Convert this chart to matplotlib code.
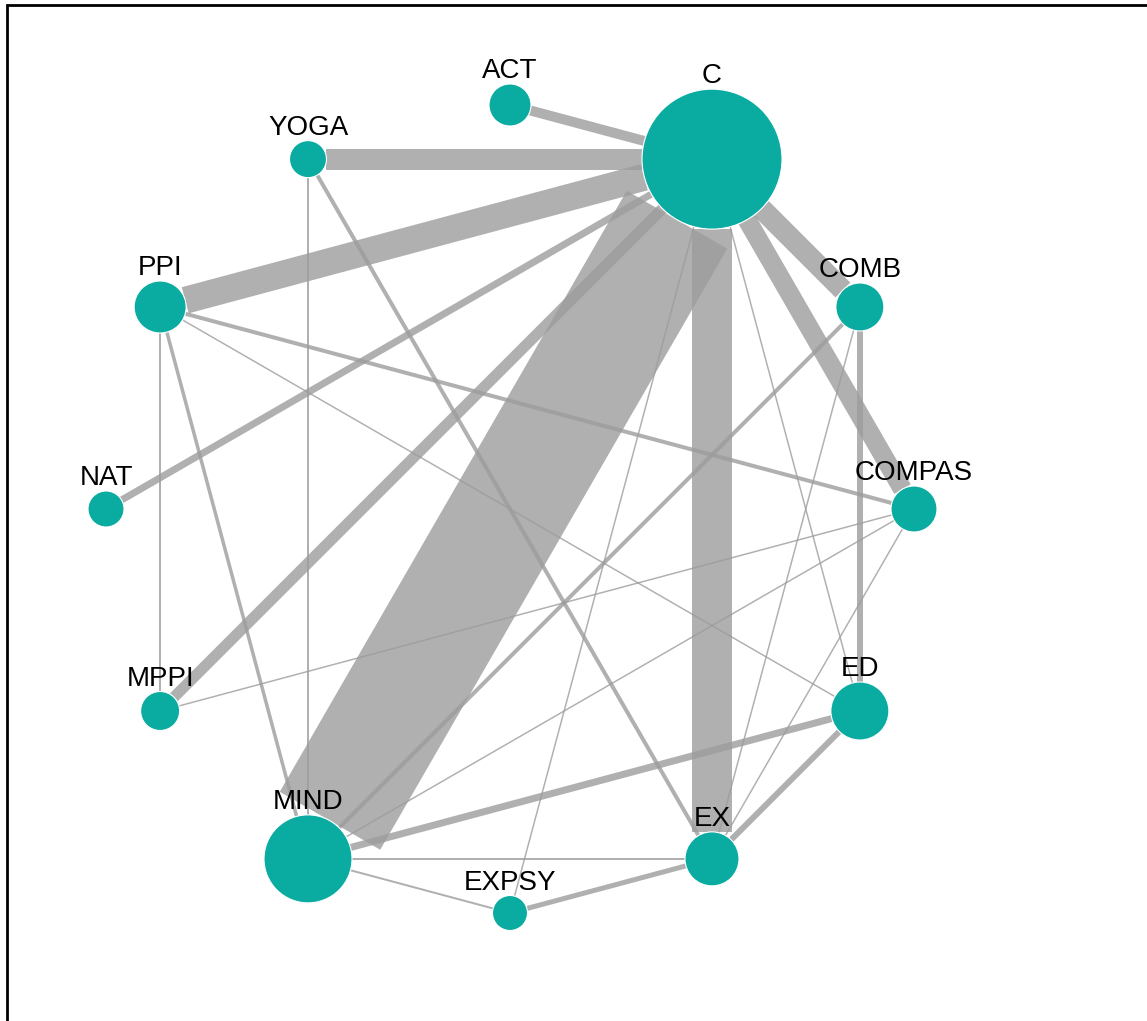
import numpy as np
import matplotlib
matplotlib.use("Agg")
import matplotlib.pyplot as plt
from matplotlib.patches import Circle, Polygon

# treatments in layout order (clockwise from the top)
nodes = ["ACT", "C", "COMB", "COMPAS", "ED", "EX", "EXPSY", "MIND", "MPPI", "NAT", "PPI", "YOGA"]
node_size = [21, 70, 24, 23, 29, 27, 17.5, 44, 19.5, 18, 26, 18.5]

# direct comparisons: pairs and edge thickness
edge_from = ["C", "C", "C", "C", "C", "C", "C", "C", "C", "C", "C",
             "YOGA", "YOGA", "PPI", "PPI", "PPI", "PPI", "MPPI",
             "MIND", "MIND", "MIND", "MIND", "MIND", "EXPSY",
             "EX", "EX", "EX", "COMB"]
edge_to = ["ACT", "YOGA", "PPI", "NAT", "MPPI", "MIND", "EX", "COMB", "COMPAS", "EXPSY", "ED",
           "MIND", "EX", "MPPI", "MIND", "COMPAS", "ED", "COMPAS",
           "COMB", "ED", "EX", "EXPSY", "COMPAS", "EX",
           "ED", "COMB", "COMPAS", "ED"]
edge_width = [10, 21, 27, 7, 11, 116, 40, 21, 19, 1.5, 1.5,
              2.5, 4, 1.5, 3.5, 4, 1.5, 1.5,
              4, 7, 2, 2, 1.5, 5,
              6, 1.5, 1.5, 5.5]

W, H = 1147, 1021
fig = plt.figure(figsize=(W / 100, H / 100), dpi=100)
ax = fig.add_axes([0, 0, 1, 1])
ax.set_xlim(0, W)
ax.set_ylim(H, 0)
ax.set_aspect("equal")
ax.axis("off")

# circular layout
cx, cy, R = 510, 509, 404
pos = {}
for i, name in enumerate(nodes):
    ang = np.deg2rad(90 - 30 * i)
    pos[name] = np.array([cx + R * np.cos(ang), cy - R * np.sin(ang)])
rad = dict(zip(nodes, node_size))

edge_col = "#9c9c9c"
for a, b, w in zip(edge_from, edge_to, edge_width):
    p1, p2 = pos[a], pos[b]
    u = (p2 - p1) / np.linalg.norm(p2 - p1)
    n = np.array([-u[1], u[0]]) * w / 2
    s = p1 + u * rad[a]
    e = p2 - u * rad[b]
    ax.add_patch(Polygon([s + n, e + n, e - n, s - n], closed=True,
                         facecolor=edge_col, edgecolor="none", alpha=0.8, zorder=1))

for name in nodes:
    x, y = pos[name]
    ax.add_patch(Circle((x, y), rad[name], facecolor="#0aaba0",
                        edgecolor="white", lw=0.8, zorder=3))
    ax.text(x, y - rad[name] - 6, name, ha="center", va="baseline",
            fontsize=20, family="Liberation Sans", color="black", zorder=4)

# border
ax.plot([7, 7, W + 5], [H + 5, 5, 5], color="black", lw=2, solid_joinstyle="miter", zorder=5)

fig.savefig("out.png", dpi=100)
